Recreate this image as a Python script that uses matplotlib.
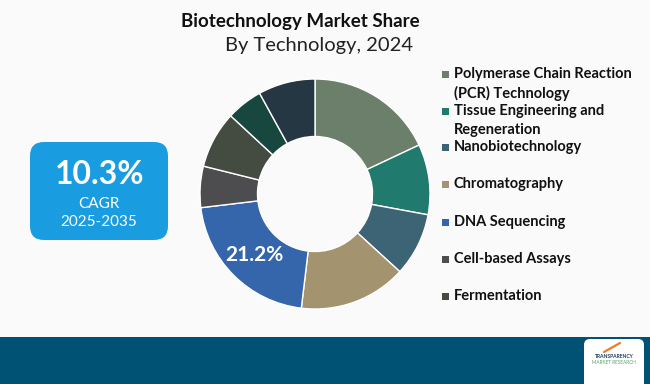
import numpy as np
import matplotlib
matplotlib.use("Agg")
import matplotlib.pyplot as plt
from matplotlib.patches import FancyBboxPatch, Rectangle

# Market share by technology, 2024 (%)
segments = ["Polymerase Chain Reaction\n(PCR) Technology",
            "Tissue Engineering and\nRegeneration",
            "Nanobiotechnology",
            "Chromatography",
            "DNA Sequencing",
            "Cell-based Assays",
            "Fermentation",
            "Other 1",
            "Other 2"]
shares = [18.0, 9.9, 8.9, 15.1, 21.2, 5.8, 8.0, 5.1, 8.0]
colors = ["#6b7f6a", "#217a6e", "#3d6475", "#a3936e", "#3565ab",
          "#4d4d4f", "#444b40", "#17473f", "#243742"]
n_legend = 7
highlight = "DNA Sequencing"

cagr = "10.3%"
cagr_period = "2025-2035"

W, H = 650, 384
plt.rcParams['font.family'] = ['Lato', 'DejaVu Sans']

fig = plt.figure(figsize=(W / 100, H / 100), dpi=100)
fig.patch.set_facecolor("#fafafa")

# background canvas in pixel units
bg = fig.add_axes([0, 0, 1, 1])
bg.set_xlim(0, W)
bg.set_ylim(H, 0)
bg.axis("off")

bg.text(300, 21, "Biotechnology Market Share", ha="center", va="center",
        fontsize=13.5, fontweight="bold", color="#111111")
bg.text(319, 46, "By Technology, 2024", ha="center", va="center",
        fontsize=14.5, color="#222222")

# CAGR box
bg.add_patch(FancyBboxPatch((38, 150), 122, 82, boxstyle="round,pad=8,rounding_size=14",
                            fc="#1a9de0", ec="none"))
bg.text(100, 175, cagr, ha="center", va="center", fontsize=23, fontweight="bold", color="white")
bg.text(99, 204, "CAGR", ha="center", va="center", fontsize=11, color="white")
bg.text(99, 222, cagr_period, ha="center", va="center", fontsize=11, color="white")

# bottom band + logo
bg.add_patch(Rectangle((0, 337), W, H - 337, fc="#005275", ec="none"))
bg.add_patch(FancyBboxPatch((587, 342), 54, 50, boxstyle="round,pad=3,rounding_size=6",
                            fc="white", ec="none"))
bg.text(614, 356, "TRANSPARENCY", ha="center", va="center", fontsize=3.6,
        fontweight="bold", color="#1d3a5c")
bg.text(614, 363, "MARKET RESEARCH", ha="center", va="center", fontsize=3.4, color="#5aa36a")
bg.plot([604, 620], [352, 343], color="#f07a2a", lw=1.6, solid_capstyle="round")

# legend
legend_y = [74, 111, 147, 184, 222, 259, 296]
for name, col, y in zip(segments[:n_legend], colors[:n_legend], legend_y):
    bg.add_patch(Rectangle((442, y - 3.5), 7, 7, fc=col, ec="none"))
    for k, ln in enumerate(name.split("\n")):
        bg.text(454, y + k * 19, ln, ha="left", va="center",
                fontsize=10.5, fontweight="bold", color="#111111")

# donut
cx, cy, r = 315, 194, 115
ax = fig.add_axes([(cx - r) / W, (H - cy - r) / H, 2 * r / W, 2 * r / H])
wedges, _ = ax.pie(shares, colors=colors, startangle=90, counterclock=False, radius=1,
                   wedgeprops=dict(width=0.5, edgecolor="white", linewidth=1))
ax.set_xlim(-1, 1)
ax.set_ylim(-1, 1)
ax.set_aspect("equal")
ax.axis("off")

i = segments.index(highlight)
w = wedges[i]
mid = np.deg2rad((w.theta1 + w.theta2) / 2)
ax.text(0.75 * np.cos(mid), 0.75 * np.sin(mid), f"{shares[i]:.1f}%", ha="center", va="center",
        fontsize=15, fontweight="bold", color="white")

fig.savefig("out.png", dpi=100, facecolor=fig.get_facecolor())
